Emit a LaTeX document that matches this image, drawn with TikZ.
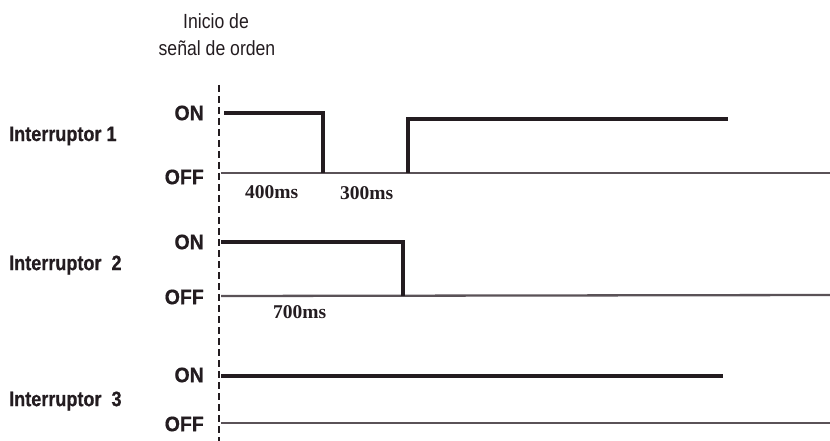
\documentclass[tikz,border=0pt]{standalone}
\usepackage{fontspec}
\setmainfont{Liberation Sans}
\newfontfamily\narrowfont[FakeStretch=0.86]{Liberation Sans}
\newfontfamily\narrowbold[FakeStretch=0.86,FakeBold=0.6]{Liberation Sans Bold}
\newfontfamily\levelfont[FakeStretch=0.93,FakeBold=0.6]{Liberation Sans Bold}
\newfontfamily\timefont{Liberation Serif Bold}
\begin{document}
\begin{tikzpicture}[x=1pt,y=-1pt,
  sig/.style={draw=sigcol,line width=3.3pt,line join=miter},
  base/.style={draw=basecol,line width=2.3pt},
  guide/.style={draw=sigcol,line width=2pt,dash pattern=on 7pt off 4pt},
  rowlabel/.style={font=\narrowbold\fontsize{21}{22}\selectfont,anchor=west,inner sep=0pt,text=sigcol},
  level/.style={font=\levelfont\fontsize{21}{22}\selectfont,anchor=east,inner sep=0pt,text=sigcol},
  dur/.style={font=\timefont\fontsize{19.5}{21}\selectfont,anchor=west,inner sep=0pt,text=sigcol},
  note/.style={font=\narrowfont\fontsize{20.5}{22}\selectfont,inner sep=0pt,text=sigcol}]
\definecolor{sigcol}{HTML}{231C20}
\definecolor{basecol}{HTML}{5A5257}
\useasboundingbox (0,0) rectangle (830,441);

% start-of-command marker
\node[note] (t1) at (216,21) {Inicio de};
\node[note] (t2) at (217,48) {señal de orden};
\coordinate (gtop) at (219,85);
\coordinate (gbot) at (219,441);
\draw[guide] (gtop) -- (gbot);

% row labels
\node[rowlabel] (r1) at (9,136) {Interruptor 1};
\node[rowlabel] (r2) at (9,265) {Interruptor\ \ 2};
\node[rowlabel] (r3) at (9,401) {Interruptor\ \ 3};

% ON / OFF levels
\node[level] (on1) at (204,113) {ON};
\node[level] (off1) at (204,177) {OFF};
\node[level] (on2) at (204,242) {ON};
\node[level] (off2) at (204,297) {OFF};
\node[level] (on3) at (204,375) {ON};
\node[level] (off3) at (204,424) {OFF};

% switch 1
\coordinate (a0) at (221,173);
\coordinate (a1) at (830,173);
\draw[base] (a0) -- (a1);
\coordinate (b0) at (224,113);
\coordinate (b1) at (323,113);
\coordinate (b2) at (323,173);
\coordinate (b3) at (408,173);
\coordinate (b4) at (408,119);
\coordinate (b5) at (728,119);
\draw[sig] (b0) -- (b1) -- (b2);
\draw[sig] (b3) -- (b4) -- (b5);

% switch 2
\coordinate (c0) at (221,296);
\coordinate (c1) at (830,295);
\draw[base] (c0) -- (c1);
\coordinate (d0) at (221,242);
\coordinate (d1) at (403,242);
\coordinate (d2) at (403,296);
\draw[sig] (d0) -- (d1) -- (d2);

% switch 3
\coordinate (e0) at (221,423);
\coordinate (e1) at (830,423);
\draw[base] (e0) -- (e1);
\coordinate (f0) at (221,376);
\coordinate (f1) at (723,376);
\draw[sig] (f0) -- (f1);

% durations
\node[dur] (m1) at (245,192) {400ms};
\node[dur] (m2) at (340,193) {300ms};
\node[dur] (m3) at (273,312) {700ms};
\end{tikzpicture}
\end{document}
